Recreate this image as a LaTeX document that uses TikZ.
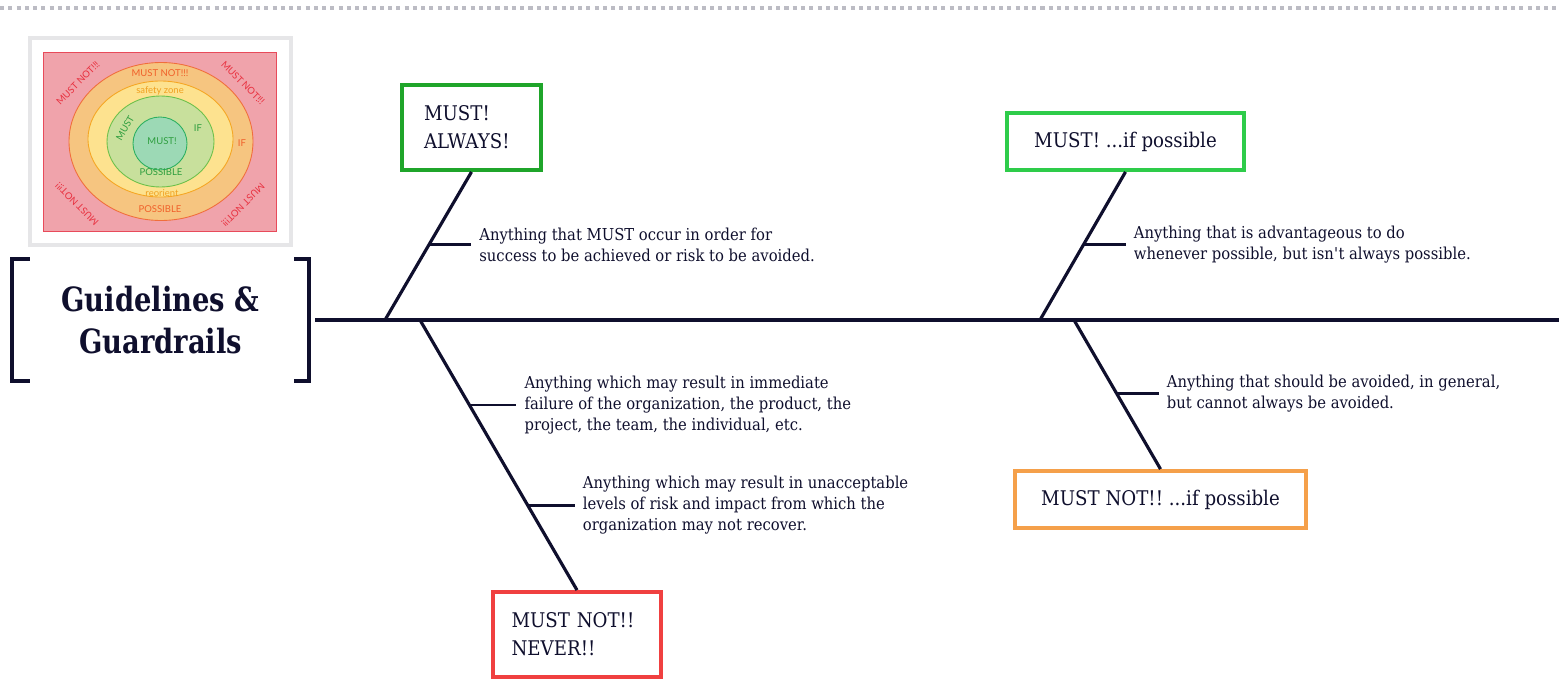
\documentclass[tikz,border=0pt]{standalone}
\usepackage{fontspec}
\setmainfont{DejaVu Serif}[FakeStretch=0.9]
\newfontfamily\titlefont{DejaVu Serif}[FakeStretch=0.82]
\newfontfamily\insetfont{Lato}
\newcommand{\apos}{\textquotesingle{}}
\frenchspacing
\usetikzlibrary{positioning,calc}
\definecolor{inkc}{RGB}{15,15,45}
\definecolor{alwaysc}{RGB}{31,165,42}
\definecolor{possc}{RGB}{46,204,74}
\definecolor{neverc}{RGB}{240,64,64}
\definecolor{avoidc}{RGB}{245,160,74}
\definecolor{rulec}{RGB}{188,188,196}
\definecolor{framec}{RGB}{230,230,232}
\definecolor{pinkbg}{RGB}{240,163,171}
\definecolor{pinkrim}{RGB}{232,74,90}
\definecolor{orangebg}{RGB}{246,197,128}
\definecolor{orangerim}{RGB}{240,110,60}
\definecolor{yellowbg}{RGB}{253,226,143}
\definecolor{yellowrim}{RGB}{245,166,35}
\definecolor{greenbg}{RGB}{200,224,156}
\definecolor{greenrim}{RGB}{108,192,74}
\definecolor{tealbg}{RGB}{156,217,181}
\definecolor{tealrim}{RGB}{43,176,96}
\definecolor{redtxt}{RGB}{232,48,63}
\definecolor{orangetxt}{RGB}{240,96,42}
\definecolor{yellowtxt}{RGB}{240,160,32}
\definecolor{greentxt}{RGB}{46,158,62}
\tikzset{
  toprule/.style={draw=rulec,line width=2.3pt,dash pattern=on 2.3pt off 2.4pt},
  spine/.style={draw=inkc,line width=2.3pt},
  bone/.style={draw=inkc,line width=1.8pt},
  tick/.style={draw=inkc,line width=1.4pt},
  brk/.style={draw=inkc,line width=2.3pt,line join=miter},
  ttl/.style={minimum width=5.94cm,minimum height=2.44cm,inner sep=0pt,align=center,
              text=inkc,font=\titlefont\bfseries\fontsize{19}{24.4}\selectfont},
  tag/.style={draw,line width=2.2pt,fill=white,text=inkc,inner ysep=0pt,
              minimum height=1.7cm,font=\fontsize{11.5}{15.9}\selectfont},
  desc/.style={text=inkc,align=left,inner xsep=4.5pt,inner ysep=0pt,
               font=\fontsize{9.35}{11.9}\selectfont},
  ring/.style={line width=0.5pt},
  mini/.style={font=\insetfont\fontsize{5.4}{6}\selectfont,inner sep=0pt},
}
\begin{document}
\begin{tikzpicture}[x=0.02cm,y=-0.02cm]
  \useasboundingbox (0,0) rectangle (1559,697);
  \draw[toprule] (0,8) -- (1559,8);

  % small target picture
  \draw[draw=framec,line width=2.2pt,fill=white] (30,38) rectangle (291,245);
  \draw[ring,fill=pinkbg,draw=pinkrim] (43,52) rectangle (276,231);
  \draw[ring,fill=orangebg,draw=orangerim] (161,141.5) ellipse [x radius=92,y radius=79];
  \draw[ring,fill=yellowbg,draw=yellowrim] (160.5,139) ellipse [x radius=72.5,y radius=58];
  \draw[ring,fill=greenbg,draw=greenrim] (160.5,141.5) ellipse [x radius=53.5,y radius=45.5];
  \draw[ring,fill=tealbg,draw=tealrim] (160,143.5) ellipse [x radius=27,y radius=26.5];
  \node[mini,text=orangetxt] at (160,73) {MUST NOT!!!};
  \node[mini,text=yellowtxt] at (160,91) {safety zone};
  \node[mini,text=greentxt,rotate=60] at (125,128) {MUST};
  \node[mini,text=greentxt] at (198,128) {IF};
  \node[mini,text=greentxt] at (162,141) {MUST!};
  \node[mini,text=greentxt] at (161,172) {POSSIBLE};
  \node[mini,text=orangetxt] at (242,143) {IF};
  \node[mini,text=yellowtxt] at (162,193) {reorient};
  \node[mini,text=orangetxt] at (160,209) {POSSIBLE};
  \node[mini,text=redtxt,rotate=45] at (78,83) {MUST NOT!!!};
  \node[mini,text=redtxt,rotate=-45] at (243,83) {MUST NOT!!!};
  \node[mini,text=redtxt,rotate=135] at (77,204) {MUST NOT!!!};
  \node[mini,text=redtxt,rotate=-135] at (243,205) {MUST NOT!!!};

  % head and spine
  \node[ttl] (ttl) at (160.5,320) {Guidelines \&\\Guardrails};
  \draw[brk] ($(ttl.north west)+(18,0)$) -- (ttl.north west) -- (ttl.south west) -- ++(18,0);
  \draw[brk] ($(ttl.north east)+(-15,0)$) -- (ttl.north east) -- (ttl.south east) -- ++(-15,0);
  \coordinate (tail) at (1559,320);
  \draw[spine] ($(ttl.east)+(6,0)$) -- (tail);

  \coordinate (s1) at (385,320);
  \coordinate (s2) at (420,320);
  \coordinate (s3) at (1040,320);
  \coordinate (s4) at (1074,320);

  % boxes
  \node[tag,draw=alwaysc,text width=1.9cm,inner xsep=0.44cm,align=left] (b1) at (471.5,127.5) {MUST!\\ALWAYS!};
  \node[tag,draw=neverc,text width=2.62cm,inner xsep=0.37cm,align=left] (b2) at (577,634.5) {MUST NOT!!\\NEVER!!};
  \node[tag,draw=possc,minimum width=4.74cm,minimum height=1.14cm] (b3) at (1125.5,141.5) {MUST! ...if possible};
  \node[tag,draw=avoidc,minimum width=5.82cm,minimum height=1.14cm] (b4) at (1160.5,499.5) {MUST NOT!! ...if possible};

  \draw[bone] (s1) -- (b1.south);
  \draw[bone] (s2) -- (b2.north);
  \draw[bone] (s3) -- (b3.south);
  \draw[bone] (s4) -- (b4.north);

  % ribs with their notes
  \coordinate (t1) at ($(s1)!0.51!(b1.south)$);
  \coordinate (t2) at ($(s2)!0.314!(b2.north)$);
  \coordinate (t3) at ($(s2)!0.686!(b2.north)$);
  \coordinate (t4) at ($(s3)!0.51!(b3.south)$);
  \coordinate (t5) at ($(s4)!0.493!(b4.north)$);

  \node[desc,right=0.84cm of t1] (d1) {Anything that MUST occur in order for\\success to be achieved or risk to be avoided.};
  \node[desc,right=0.94cm of t2] (d2) {Anything which may result in immediate\\failure of the organization, the product, the\\project, the team, the individual, etc.};
  \node[desc,right=0.94cm of t3] (d3) {Anything which may result in unacceptable\\levels of risk and impact from which the\\organization may not recover.};
  \node[desc,right=0.84cm of t4] (d4) {Anything that is advantageous to do\\whenever possible, but isn\apos t always possible.};
  \node[desc,right=0.84cm of t5] (d5) {Anything that should be avoided, in general,\\but cannot always be avoided.};

  \draw[tick] (t1) -- (d1.west);
  \draw[tick] (t2) -- (d2.west);
  \draw[tick] (t3) -- (d3.west);
  \draw[tick] (t4) -- (d4.west);
  \draw[tick] (t5) -- (d5.west);
\end{tikzpicture}
\end{document}
